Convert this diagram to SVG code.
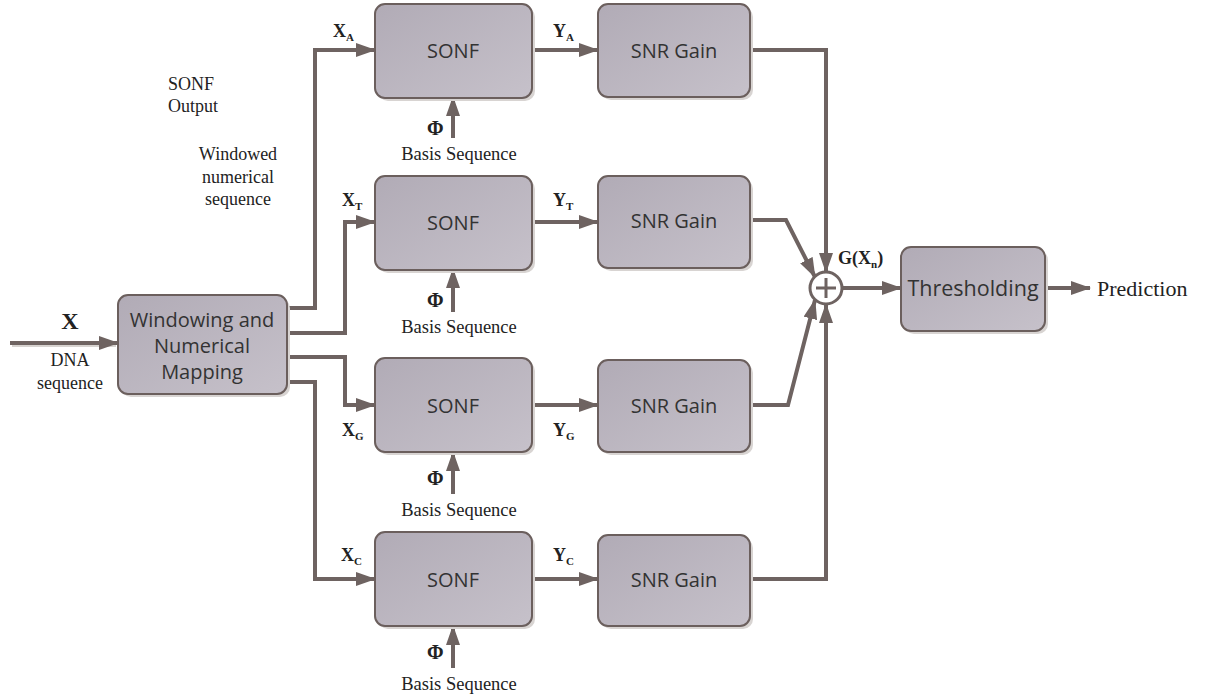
<svg xmlns="http://www.w3.org/2000/svg" width="1230" height="697" viewBox="0 0 1230 697">
<defs>
<linearGradient id="bg" x1="0" y1="0" x2="1" y2="1">
<stop offset="0" stop-color="#b1abb6"/>
<stop offset="1" stop-color="#c6c1ca"/>
</linearGradient>
<marker id="ah" viewBox="0 0 20 14" refX="19" refY="7" markerWidth="20" markerHeight="14" markerUnits="userSpaceOnUse" orient="auto">
<path d="M0,0 L20,7 L0,14 Z" fill="#6e6361"/>
</marker>
</defs>
<style>
.box{fill:url(#bg);stroke:#6b5f5d;stroke-width:2}
.sh{fill:#d8d4d2}
.bt{font-family:"Open Sans","Liberation Sans",sans-serif;font-size:20px;fill:#333;text-anchor:middle}
.c{fill:none;stroke:#6e6361;stroke-width:4;marker-end:url(#ah)}
.cs{fill:none;stroke:#d6d2cf;stroke-width:4}
.lab{font-family:"Liberation Serif","Times New Roman",serif;font-size:18px;fill:#222}
.b{font-weight:bold}
.sub{font-size:11px;font-weight:bold}
.phi{font-size:20px}
.big{font-size:24px}
</style>
<g id="connectors">
<path class="cs" d="M12,345 L116,345"/>
<path class="c" d="M10,343 L118,343"/>
<path class="c" d="M287,308 L315,308 L315,50 L375,50"/>
<path class="c" d="M287,333 L345,333 L345,222 L375,222"/>
<path class="c" d="M287,357 L345,357 L345,405 L375,405"/>
<path class="c" d="M287,382 L315,382 L315,579 L375,579"/>
<path class="c" d="M532,50 L598,50"/>
<path class="c" d="M532,222 L598,222"/>
<path class="c" d="M532,405 L598,405"/>
<path class="c" d="M532,579 L598,579"/>
<path class="c" d="M453,138 L453,97"/>
<path class="c" d="M453,312 L453,269"/>
<path class="c" d="M453,494 L453,452"/>
<path class="c" d="M453,668 L453,626"/>
<path class="c" d="M750,50 L826,50 L826,272"/>
<path class="c" d="M750,220 L786,220 L815,277"/>
<path class="c" d="M750,405 L788,405 L815,300"/>
<path class="c" d="M750,579 L826,579 L826,304"/>
<path class="c" d="M842,288 L901,288"/>
<path class="c" d="M1045,288 L1090,288"/>
</g>
<g id="sum">
<circle cx="826" cy="288" r="16" fill="#fff" stroke="#6e6361" stroke-width="3"/>
<path d="M826,278 L826,298 M816,288 L836,288" stroke="#6e6361" stroke-width="3"/>
</g>
<g id="windowing">
<rect class="sh" x="121" y="298" width="169" height="99" rx="10"/>
<rect class="box" x="118" y="295" width="169" height="99" rx="10"/>
<text class="bt" x="202" y="327">Windowing and</text>
<text class="bt" x="202" y="353">Numerical</text>
<text class="bt" x="202" y="379">Mapping</text>
</g>
<g id="sonfA"><rect class="sh" x="378" y="7" width="157" height="94" rx="10"/><rect class="box" x="375" y="4" width="157" height="94" rx="10"/><text class="bt" x="453" y="58">SONF</text></g>
<g id="sonfT"><rect class="sh" x="378" y="179" width="157" height="94" rx="10"/><rect class="box" x="375" y="176" width="157" height="94" rx="10"/><text class="bt" x="453" y="230">SONF</text></g>
<g id="sonfG"><rect class="sh" x="378" y="361" width="157" height="94" rx="10"/><rect class="box" x="375" y="358" width="157" height="94" rx="10"/><text class="bt" x="453" y="413">SONF</text></g>
<g id="sonfC"><rect class="sh" x="378" y="535" width="157" height="94" rx="10"/><rect class="box" x="375" y="532" width="157" height="94" rx="10"/><text class="bt" x="453" y="587">SONF</text></g>
<g id="snrA"><rect class="sh" x="601" y="7" width="152" height="93" rx="10"/><rect class="box" x="598" y="4" width="152" height="93" rx="10"/><text class="bt" x="674" y="58">SNR Gain</text></g>
<g id="snrT"><rect class="sh" x="601" y="179" width="152" height="92" rx="10"/><rect class="box" x="598" y="176" width="152" height="92" rx="10"/><text class="bt" x="674" y="228">SNR Gain</text></g>
<g id="snrG"><rect class="sh" x="601" y="363" width="152" height="92" rx="10"/><rect class="box" x="598" y="360" width="152" height="92" rx="10"/><text class="bt" x="674" y="413">SNR Gain</text></g>
<g id="snrC"><rect class="sh" x="601" y="538" width="152" height="91" rx="10"/><rect class="box" x="598" y="535" width="152" height="91" rx="10"/><text class="bt" x="674" y="587">SNR Gain</text></g>
<g id="thresholding"><rect class="sh" x="904" y="250" width="144" height="84" rx="10"/><rect class="box" x="901" y="247" width="144" height="84" rx="10"/><text class="bt" x="973" y="296" style="font-size:21.5px">Thresholding</text></g>
<g id="labels">
<text class="lab b big" x="70" y="329" text-anchor="middle">X</text>
<text class="lab" x="70" y="366" text-anchor="middle">DNA</text>
<text class="lab" x="70" y="389" text-anchor="middle">sequence</text>
<text class="lab" x="168" y="90">SONF</text>
<text class="lab" x="168" y="112">Output</text>
<text class="lab" x="238" y="160" text-anchor="middle">Windowed</text>
<text class="lab" x="238" y="183" text-anchor="middle">numerical</text>
<text class="lab" x="238" y="205" text-anchor="middle">sequence</text>
<text class="lab b" x="333" y="37">X<tspan class="sub" dy="4">A</tspan></text>
<text class="lab b" x="342" y="206">X<tspan class="sub" dy="4">T</tspan></text>
<text class="lab b" x="342" y="436">X<tspan class="sub" dy="4">G</tspan></text>
<text class="lab b" x="341" y="561">X<tspan class="sub" dy="4">C</tspan></text>
<text class="lab b" x="553" y="37">Y<tspan class="sub" dy="4">A</tspan></text>
<text class="lab b" x="553" y="206">Y<tspan class="sub" dy="4">T</tspan></text>
<text class="lab b" x="553" y="436">Y<tspan class="sub" dy="4">G</tspan></text>
<text class="lab b" x="553" y="561">Y<tspan class="sub" dy="4">C</tspan></text>
<text class="lab b phi" x="427" y="135">Φ</text>
<text class="lab b phi" x="427" y="307">Φ</text>
<text class="lab b phi" x="427" y="485">Φ</text>
<text class="lab b phi" x="427" y="659">Φ</text>
<text class="lab" x="459" y="160" style="font-size:18.5px" text-anchor="middle">Basis Sequence</text>
<text class="lab" x="459" y="333" style="font-size:18.5px" text-anchor="middle">Basis Sequence</text>
<text class="lab" x="459" y="516" style="font-size:18.5px" text-anchor="middle">Basis Sequence</text>
<text class="lab" x="459" y="690" style="font-size:18.5px" text-anchor="middle">Basis Sequence</text>
<text class="lab b" x="838" y="264">G(X<tspan class="sub" dy="4">n</tspan><tspan dy="-4">)</tspan></text>
<text class="lab" x="1097" y="296" style="font-size:22px">Prediction</text>
</g>
</svg>
